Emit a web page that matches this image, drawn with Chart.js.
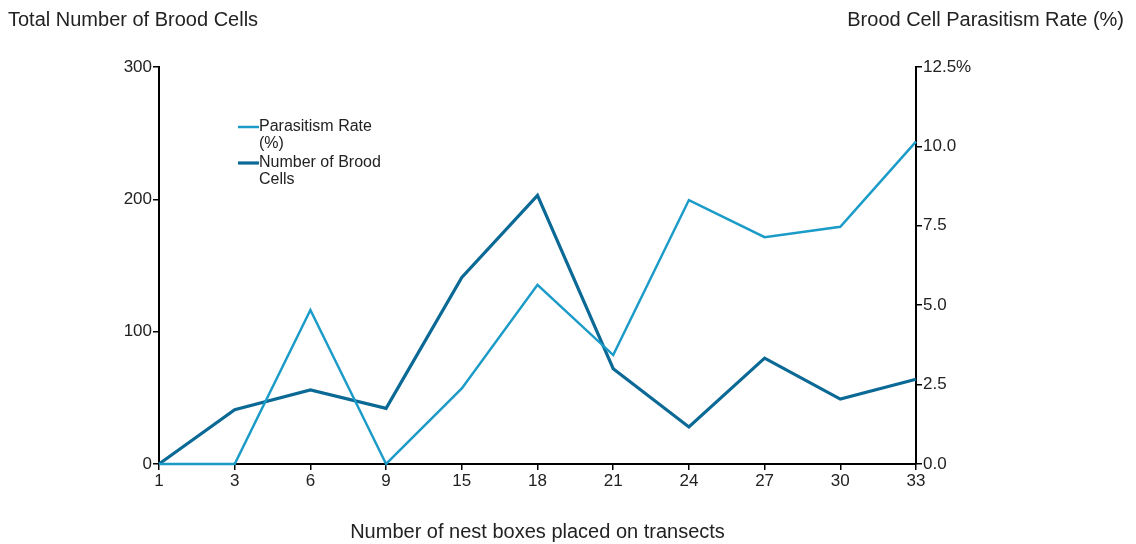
<!DOCTYPE html>
<html><head><meta charset="utf-8">
<script src="https://cdn.jsdelivr.net/npm/chart.js@4/dist/chart.umd.min.js"></script>
<style>html,body{margin:0;padding:0;background:#fff}#wrap{width:1136px;height:544px;position:relative}</style>
</head><body><div id="wrap"><canvas id="c" width="1136" height="544"></canvas></div>
<script>
const categories = ['1','3','6','9','15','18','21','24','27','30','33'];
const broodCells = [0, 41, 56, 42, 141, 203, 72, 28, 80, 49, 64];
const parasitismRate = [0, 0, 4.85, 0, 2.38, 5.64, 3.43, 8.31, 7.14, 7.47, 10.15];
const leftTicks = [0, 100, 200, 300];
const rightTicks = [0, 2.5, 5, 7.5, 10, 12.5];
const leftTitle = 'Total Number of Brood Cells';
const rightTitle = 'Brood Cell Parasitism Rate (%)';
const xTitle = 'Number of nest boxes placed on transects';
const legendLines = [['Parasitism Rate', '(%)'], ['Number of Brood', 'Cells']];

const FONT = "'Liberation Sans', Arial, sans-serif";
const TXT = '#222';

const overlay = {
  id: 'overlay',
  afterDraw(chart) {
    const ctx = chart.ctx;
    ctx.save();
    ctx.fillStyle = TXT;
    ctx.font = '20px ' + FONT;
    ctx.textBaseline = 'middle';
    ctx.textAlign = 'left';
    ctx.fillText(leftTitle, 8, 20);
    ctx.textAlign = 'right';
    ctx.fillText(rightTitle, 1124, 20);
    // legend
    ctx.font = '16px ' + FONT;
    ctx.textAlign = 'left';
    let y = 127;
    chart.data.datasets.forEach((ds, i) => {
      ctx.strokeStyle = ds.borderColor;
      ctx.lineWidth = ds.borderWidth;
      ctx.beginPath(); ctx.moveTo(238, y); ctx.lineTo(259, y); ctx.stroke();
      legendLines[i].forEach((ln, j) => { ctx.fillText(ln, 259, y + j * 17); });
      y += 36;
    });
    ctx.restore();
  }
};

new Chart(document.getElementById('c'), {
  type: 'line',
  data: {
    labels: categories,
    datasets: [
      { label: 'Parasitism Rate (%)', data: parasitismRate, yAxisID: 'y1', borderColor: '#1b9bc8', borderWidth: 2.5, pointRadius: 0, tension: 0, fill: false, clip: false },
      { label: 'Number of Brood Cells', data: broodCells, yAxisID: 'y', borderColor: '#0b6995', borderWidth: 3.2, pointRadius: 0, tension: 0, fill: false, clip: false }
    ]
  },
  options: {
    responsive: false, animation: false,
    layout: { padding: { top: 67, bottom: 0, left: 0, right: 0 } },
    plugins: { legend: { display: false }, tooltip: { enabled: false } },
    scales: {
      x: {
        type: 'category', offset: false,
        grid: { drawOnChartArea: false, tickLength: 6, color: '#000', lineWidth: 1.5 },
        border: { color: '#000', width: 2 },
        ticks: { color: TXT, font: { family: FONT, size: 17 }, padding: 1, maxRotation: 0, autoSkip: false },
        title: { display: true, text: xTitle, color: TXT, font: { family: FONT, size: 20 }, padding: { top: 29, bottom: 0 } },
        afterFit(s) { s.height = 80; }
      },
      y: {
        position: 'left', min: 0, max: 300,
        afterBuildTicks(s) { s.ticks = leftTicks.map(v => ({ value: v })); },
        grid: { drawOnChartArea: false, tickLength: 6, color: '#000', lineWidth: 1.5 },
        border: { color: '#000', width: 2 },
        ticks: { color: TXT, font: { family: FONT, size: 17 }, padding: 1 },
        afterFit(s) { s.width = 159; }
      },
      y1: {
        position: 'right', min: 0, max: 12.5,
        afterBuildTicks(s) { s.ticks = rightTicks.map(v => ({ value: v })); },
        grid: { drawOnChartArea: false, tickLength: 6, color: '#000', lineWidth: 1.5 },
        border: { color: '#000', width: 2 },
        ticks: { color: TXT, font: { family: FONT, size: 17 }, padding: 1,
          callback: (v) => v === 12.5 ? '12.5%' : Number(v).toFixed(1) },
        afterFit(s) { s.width = 220; }
      }
    }
  },
  plugins: [overlay]
});
</script>
</body></html>
